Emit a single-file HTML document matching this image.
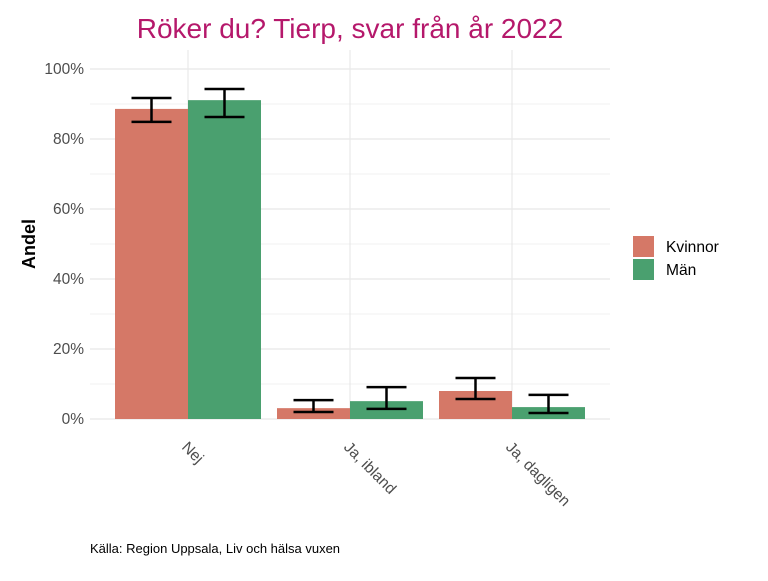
<!DOCTYPE html>
<html><head><meta charset="utf-8"><style>
body{margin:0;background:#fff;font-family:"Liberation Sans",sans-serif}
</style></head><body>
<svg id="c" width="768" height="576" xmlns="http://www.w3.org/2000/svg">
<text x="350" y="38" text-anchor="middle" font-size="28" fill="#b5186b">Röker du? Tierp, svar från år 2022</text>
<g id="grid"></g><g id="bars"></g><g id="axes"></g>
<text transform="translate(35,244) rotate(-90)" text-anchor="middle" font-size="18" font-weight="bold">Andel</text>
<rect x="633" y="236" width="21" height="21" fill="#d57867"/>
<text x="666" y="252" font-size="15.6">Kvinnor</text>
<rect x="633" y="259" width="21" height="21" fill="#4aa06f"/>
<text x="666" y="275" font-size="15.6">Män</text>
<text x="90" y="553" font-size="13">Källa: Region Uppsala, Liv och hälsa vuxen</text>
</svg>
<script>
const categories=["Nej","Ja, ibland","Ja, dagligen"];
const kvinnor=[88.6,3.1,8.0];
const kvinnorLow=[84.9,2.0,5.7];
const kvinnorHigh=[91.7,5.4,11.7];
const man=[91.1,5.1,3.4];
const manLow=[86.3,2.9,1.7];
const manHigh=[94.3,9.1,6.9];
const yTicks=[0,20,40,60,80,100];
const NS="http://www.w3.org/2000/svg";
const y=v=>419-v*3.5;
const xc=i=>188+i*162;
const bw=73;
function mk(t,a,p){const e=document.createElementNS(NS,t);for(const k in a)e.setAttribute(k,a[k]);document.getElementById(p).appendChild(e);return e;}
for(let v=10;v<=100;v+=20){mk("line",{x1:90,x2:610,y1:y(v),y2:y(v),stroke:"#f0f0f0","stroke-width":1},"grid");}
yTicks.forEach(v=>{
 const l=mk("line",{x1:90,x2:610,y1:y(v),y2:y(v),stroke:"#e8e8e8","stroke-width":1.2},"grid");
 
 
 const t=mk("text",{x:84,y:y(v)+5,"text-anchor":"end","font-size":15.5,fill:"#4d4d4d"},"axes");
 t.textContent=v+"%";
 
 
});
categories.forEach((c,i)=>{
 const g=mk("line",{x1:xc(i),x2:xc(i),y1:50,y2:419,stroke:"#e8e8e8","stroke-width":1.2},"grid");
 
 
 const t=mk("text",{transform:`translate(${xc(i)-7},448) rotate(45)`,"font-size":15.5,fill:"#4d4d4d"},"axes");
 t.textContent=c;
 
 
 [[kvinnor,kvinnorLow,kvinnorHigh,"#d57867",-bw,"kvinnor"],[man,manLow,manHigh,"#4aa06f",0,"man"]].forEach(s=>{
  const x0=xc(i)+s[4];
  const b=mk("rect",{x:x0,y:y(s[0][i]),width:bw,height:y(0)-y(s[0][i]),fill:s[3]},"bars");
  
  
  const cx=x0+bw/2;
  const e=mk("path",{d:`M${cx-20},${y(s[1][i])}H${cx+20}M${cx-20},${y(s[2][i])}H${cx+20}M${cx},${y(s[1][i])}V${y(s[2][i])}`,stroke:"#000","stroke-width":2.5,fill:"none"},"bars");
  
  
 });
});
</script>
</body></html>
